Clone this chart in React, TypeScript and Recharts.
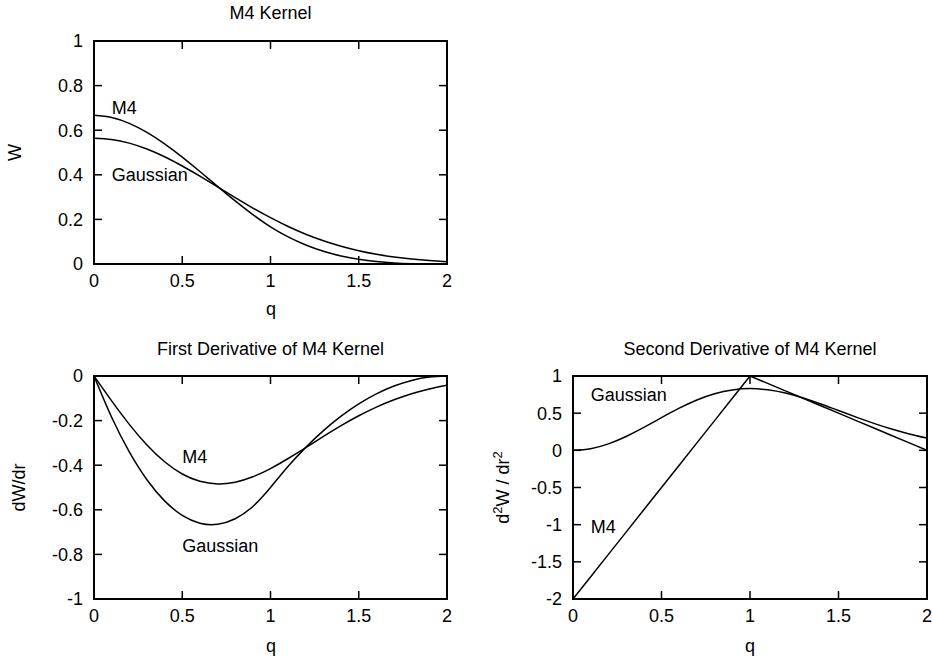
import { LineChart, Line, XAxis, YAxis, ReferenceDot, ReferenceArea } from "recharts"

// q = 0 .. 2 in steps of 0.1
const q = [0, 0.1, 0.2, 0.3, 0.4, 0.5, 0.6, 0.7, 0.8, 0.9, 1, 1.1, 1.2, 1.3, 1.4, 1.5, 1.6, 1.7, 1.8, 1.9, 2]

const m4W = [0.6667, 0.6572, 0.6307, 0.5902, 0.5387, 0.4792, 0.4147, 0.3482, 0.2827, 0.2212, 0.1667, 0.1215, 0.0853, 0.0572, 0.036, 0.0208, 0.0107, 0.0045, 0.0013, 0.0002, 0]
const gaussW = [0.5642, 0.5586, 0.5421, 0.5156, 0.4808, 0.4394, 0.3936, 0.3456, 0.2975, 0.251, 0.2076, 0.1682, 0.1337, 0.1041, 0.0795, 0.0595, 0.0436, 0.0314, 0.0221, 0.0153, 0.0103]

const m4dW = [0, -0.185, -0.34, -0.465, -0.56, -0.625, -0.66, -0.665, -0.64, -0.585, -0.5, -0.405, -0.32, -0.245, -0.18, -0.125, -0.08, -0.045, -0.02, -0.005, 0]
const gaussdW = [0, -0.1117, -0.2168, -0.3094, -0.3846, -0.4394, -0.4723, -0.4838, -0.476, -0.4518, -0.4151, -0.37, -0.3209, -0.2707, -0.2226, -0.1784, -0.1395, -0.1066, -0.0795, -0.0581, -0.0413]

const m4d2W = [-2, -1.7, -1.4, -1.1, -0.8, -0.5, -0.2, 0.1, 0.4, 0.7, 1, 0.9, 0.8, 0.7, 0.6, 0.5, 0.4, 0.3, 0.2, 0.1, 0]
const gaussd2W = [0, 0.0223, 0.0867, 0.1856, 0.3077, 0.4394, 0.5668, 0.6774, 0.7616, 0.8132, 0.8304, 0.8141, 0.7701, 0.7037, 0.6233, 0.5355, 0.4465, 0.363, 0.2864, 0.2209, 0.1648]

const qTicks = [0, 0.5, 1, 1.5, 2]
const wTicks = [0, 0.2, 0.4, 0.6, 0.8, 1]
const dwTicks = [-1, -0.8, -0.6, -0.4, -0.2, 0]
const d2wTicks = [-2, -1.5, -1, -0.5, 0, 0.5, 1]

// curve name labels, in data coordinates
const wNotes = [
  { x: 0.1, y: 0.7, text: "M4" },
  { x: 0.1, y: 0.4, text: "Gaussian" },
]
const dwNotes = [
  { x: 0.5, y: -0.36, text: "M4" },
  { x: 0.5, y: -0.76, text: "Gaussian" },
]
const d2wNotes = [
  { x: 0.1, y: 0.75, text: "Gaussian" },
  { x: 0.1, y: -1.02, text: "M4" },
]

const font = "'Liberation Sans', Arial, Helvetica, sans-serif"
const GAP = 4 // tickMargin handed to recharts, tick labels are placed by hand from it
const TICK = 8 // gnuplot style inward ticks, mirrored on the opposite side

const toRows = (m4: number[], gauss: number[]) => q.map((x, i) => ({ q: x, m4: m4[i], gauss: gauss[i] }))

function BottomTick({ x, y, payload, plotHeight }: any) {
  const axisY = y - GAP
  return (
    <g>
      <line x1={x} x2={x} y1={axisY} y2={axisY - TICK} stroke="#000" strokeWidth={1.5} />
      <line x1={x} x2={x} y1={axisY - plotHeight} y2={axisY - plotHeight + TICK} stroke="#000" strokeWidth={1.5} />
      <text x={x} y={axisY + 10} dy="0.72em" textAnchor="middle" fill="#000" fontSize={18} fontFamily={font}>
        {payload.value}
      </text>
    </g>
  )
}

function LeftTick({ x, y, payload, plotWidth }: any) {
  const axisX = x + GAP
  return (
    <g>
      <line x1={axisX} x2={axisX + TICK} y1={y} y2={y} stroke="#000" strokeWidth={1.5} />
      <line x1={axisX + plotWidth} x2={axisX + plotWidth - TICK} y1={y} y2={y} stroke="#000" strokeWidth={1.5} />
      <text x={axisX - 11} y={y} dy="0.36em" textAnchor="end" fill="#000" fontSize={18} fontFamily={font}>
        {payload.value}
      </text>
    </g>
  )
}

function KernelPanel({ rows, yTicks, notes, width, height, yWidth, xHeight, top, right, m4Linear }: any) {
  const yDomain = [yTicks[0], yTicks[yTicks.length - 1]]
  const plotWidth = width - yWidth - right
  const plotHeight = height - top - xHeight
  return (
    <LineChart width={width} height={height} data={rows} margin={{ top, right, left: 0, bottom: 0 }}>
      <XAxis
        dataKey="q"
        type="number"
        domain={[0, 2]}
        ticks={qTicks}
        interval={0}
        height={xHeight}
        tickSize={0}
        tickMargin={GAP}
        tickLine={false}
        axisLine={false}
        tick={(p: any) => <BottomTick {...p} plotHeight={plotHeight} />}
        allowDataOverflow
      />
      <YAxis
        type="number"
        domain={yDomain}
        ticks={yTicks}
        interval={0}
        width={yWidth}
        tickSize={0}
        tickMargin={GAP}
        tickLine={false}
        axisLine={false}
        tick={(p: any) => <LeftTick {...p} plotWidth={plotWidth} />}
        allowDataOverflow
      />
      <ReferenceArea x1={0} x2={2} y1={yDomain[0]} y2={yDomain[1]} fill="none" stroke="#000" strokeWidth={2} />
      <Line dataKey="m4" type={m4Linear ? "linear" : "natural"} stroke="#000" strokeWidth={1.5} dot={false} isAnimationActive={false} />
      <Line dataKey="gauss" type="natural" stroke="#000" strokeWidth={1.5} dot={false} isAnimationActive={false} />
      {notes.map((n: any) => (
        <ReferenceDot
          key={n.text}
          x={n.x}
          y={n.y}
          r={0}
          fill="none"
          stroke="none"
          label={{ value: n.text, position: "right", offset: 0, fill: "#000", fontSize: 18, fontFamily: font }}
        />
      ))}
    </LineChart>
  )
}

export default function App() {
  const textStyle = { fontFamily: font, fontSize: 18, fill: "#000" }
  return (
    <div style={{ position: "absolute", left: 0, top: 0, width: 932, height: 663, overflow: "hidden", background: "#fff" }}>
      <div style={{ position: "absolute", left: 0, top: 0 }}>
        <KernelPanel rows={toRows(m4W, gaussW)} yTicks={wTicks} notes={wNotes} width={466} height={330} yWidth={94} xHeight={66} top={41} right={19} />
      </div>
      <div style={{ position: "absolute", left: 0, top: 330 }}>
        <KernelPanel rows={toRows(m4dW, gaussdW)} yTicks={dwTicks} notes={dwNotes} width={466} height={333} yWidth={94} xHeight={64} top={46} right={19} />
      </div>
      <div style={{ position: "absolute", left: 466, top: 330 }}>
        <KernelPanel rows={toRows(m4d2W, gaussd2W)} yTicks={d2wTicks} notes={d2wNotes} width={470} height={333} yWidth={107} xHeight={64} top={46} right={9} m4Linear />
      </div>
      <svg width={932} height={663} style={{ position: "absolute", left: 0, top: 0, pointerEvents: "none" }}>
        <g style={textStyle} textAnchor="middle">
          <text x={270.5} y={19}>M4 Kernel</text>
          <text x={270.5} y={355}>First Derivative of M4 Kernel</text>
          <text x={750} y={355}>Second Derivative of M4 Kernel</text>
          <text x={271} y={315}>q</text>
          <text x={271} y={652}>q</text>
          <text x={750} y={652}>q</text>
          <text x={21} y={152.5} transform="rotate(-90 21 152.5)">W</text>
          <text x={25} y={487.5} transform="rotate(-90 25 487.5)">dW/dr</text>
          <text x={509} y={487.5} transform="rotate(-90 509 487.5)">
            d<tspan dy={-7} fontSize={13}>2</tspan>
            <tspan dy={7}>W / dr</tspan>
            <tspan dy={-7} fontSize={13}>2</tspan>
          </text>
        </g>
      </svg>
    </div>
  )
}
